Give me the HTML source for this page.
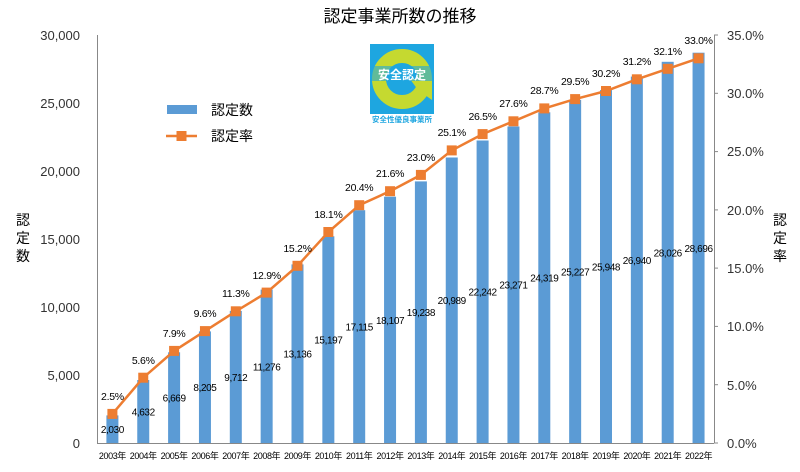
<!DOCTYPE html>
<html><head><meta charset="utf-8"><style>
html,body{margin:0;padding:0;background:#fff;}
svg{display:block;font-family:"Liberation Sans","Noto Sans CJK JP",sans-serif;}
</style></head><body>
<svg width="800" height="472" viewBox="0 0 800 472" xmlns="http://www.w3.org/2000/svg">
<rect width="800" height="472" fill="#fff"/>
<text x="400" y="22" font-size="17" text-anchor="middle" fill="#000">認定事業所数の推移</text>
<!-- axes -->
<g stroke="#888" stroke-width="1">
<line x1="97.5" y1="35" x2="97.5" y2="443"/>
<line x1="97" y1="443.5" x2="714" y2="443.5"/>
<line x1="714.5" y1="35" x2="714.5" y2="443"/>
<line x1="714" y1="35" x2="718" y2="35"/><line x1="714" y1="93.3" x2="718" y2="93.3"/>
<line x1="714" y1="151.6" x2="718" y2="151.6"/><line x1="714" y1="209.9" x2="718" y2="209.9"/>
<line x1="714" y1="268.1" x2="718" y2="268.1"/><line x1="714" y1="326.4" x2="718" y2="326.4"/>
<line x1="714" y1="384.7" x2="718" y2="384.7"/><line x1="714" y1="443" x2="718" y2="443"/>
</g>
<g font-size="13" fill="#333" text-anchor="end">
<text x="80" y="40">30,000</text><text x="80" y="108">25,000</text><text x="80" y="176">20,000</text>
<text x="80" y="244">15,000</text><text x="80" y="312">10,000</text><text x="80" y="380">5,000</text><text x="80" y="448">0</text>
</g>
<g font-size="13" fill="#333">
<text x="727" y="40">35.0%</text><text x="727" y="98">30.0%</text><text x="727" y="156">25.0%</text>
<text x="727" y="215">20.0%</text><text x="727" y="273">15.0%</text><text x="727" y="331">10.0%</text>
<text x="727" y="390">5.0%</text><text x="727" y="448">0.0%</text>
</g>
<g font-size="14" fill="#000" text-anchor="middle">
<text x="23" y="225">認</text><text x="23" y="243">定</text><text x="23" y="261">数</text>
<text x="780" y="225">認</text><text x="780" y="243">定</text><text x="780" y="261">率</text>
</g>
<!-- bars -->
<g fill="#5b9bd5">
<rect x="106.4" y="415.4" width="12" height="27.6"/>
<rect x="137.25" y="380" width="12" height="63"/>
<rect x="168.1" y="352.3" width="12" height="90.7"/>
<rect x="198.95" y="331.4" width="12" height="111.6"/>
<rect x="229.8" y="310.9" width="12" height="132.1"/>
<rect x="260.65" y="289.6" width="12" height="153.4"/>
<rect x="291.5" y="264.4" width="12" height="178.6"/>
<rect x="322.35" y="236.3" width="12" height="206.7"/>
<rect x="353.2" y="210.2" width="12" height="232.8"/>
<rect x="384.05" y="196.7" width="12" height="246.3"/>
<rect x="414.9" y="181.4" width="12" height="261.6"/>
<rect x="445.75" y="157.5" width="12" height="285.5"/>
<rect x="476.6" y="140.5" width="12" height="302.5"/>
<rect x="507.45" y="126.5" width="12" height="316.5"/>
<rect x="538.3" y="112.3" width="12" height="330.7"/>
<rect x="569.15" y="99.9" width="12" height="343.1"/>
<rect x="600" y="90.1" width="12" height="352.9"/>
<rect x="630.85" y="76.6" width="12" height="366.4"/>
<rect x="661.7" y="61.8" width="12" height="381.2"/>
<rect x="692.55" y="52.7" width="12" height="390.3"/>
</g>
<g font-size="10" fill="#000" text-anchor="middle" letter-spacing="-0.4">
<text x="112.4" y="433.2">2,030</text><text x="143.25" y="415.5">4,632</text><text x="174.1" y="401.6">6,669</text>
<text x="204.95" y="391.2">8,205</text><text x="235.8" y="381">9,712</text><text x="266.65" y="370.3">11,276</text>
<text x="297.5" y="357.7">13,136</text><text x="328.35" y="343.6">15,197</text><text x="359.2" y="330.6">17,115</text>
<text x="390.05" y="323.8">18,107</text><text x="420.9" y="316.2">19,238</text><text x="451.75" y="304.2">20,989</text>
<text x="482.6" y="295.7">22,242</text><text x="513.45" y="288.7">23,271</text><text x="544.3" y="281.6">24,319</text>
<text x="575.15" y="275.4">25,227</text><text x="606" y="270.5">25,948</text><text x="636.85" y="263.8">26,940</text>
<text x="667.7" y="256.4">28,026</text><text x="698.55" y="251.8">28,696</text>
</g>
<!-- line -->
<polyline fill="none" stroke="#ed7d31" stroke-width="2.5" points="112.4,413.9 143.25,377.7 174.1,350.9 204.95,331.1 235.8,311.3 266.65,292.6 297.5,265.8 328.35,232 359.2,205.2 390.05,191.2 420.9,174.9 451.75,150.4 482.6,134.1 513.45,121.3 544.3,108.4 575.15,99.1 606,91 636.85,79.3 667.7,68.8 698.55,58.3"/>
<g fill="#ed7d31">
<rect x="107.4" y="408.9" width="10" height="10"/><rect x="138.25" y="372.7" width="10" height="10"/>
<rect x="169.1" y="345.9" width="10" height="10"/><rect x="199.95" y="326.1" width="10" height="10"/>
<rect x="230.8" y="306.3" width="10" height="10"/><rect x="261.65" y="287.6" width="10" height="10"/>
<rect x="292.5" y="260.8" width="10" height="10"/><rect x="323.35" y="227" width="10" height="10"/>
<rect x="354.2" y="200.2" width="10" height="10"/><rect x="385.05" y="186.2" width="10" height="10"/>
<rect x="415.9" y="169.9" width="10" height="10"/><rect x="446.75" y="145.4" width="10" height="10"/>
<rect x="477.6" y="129.1" width="10" height="10"/><rect x="508.45" y="116.3" width="10" height="10"/>
<rect x="539.3" y="103.4" width="10" height="10"/><rect x="570.15" y="94.1" width="10" height="10"/>
<rect x="601" y="86" width="10" height="10"/><rect x="631.85" y="74.3" width="10" height="10"/>
<rect x="662.7" y="63.8" width="10" height="10"/><rect x="693.55" y="53.3" width="10" height="10"/>
</g>
<g font-size="10.5" fill="#000" text-anchor="middle" letter-spacing="-0.3">
<text x="112.4" y="400">2.5%</text><text x="143.25" y="364">5.6%</text><text x="174.1" y="337">7.9%</text>
<text x="204.95" y="317">9.6%</text><text x="235.8" y="297">11.3%</text><text x="266.65" y="279">12.9%</text>
<text x="297.5" y="252">15.2%</text><text x="328.35" y="218">18.1%</text><text x="359.2" y="191">20.4%</text>
<text x="390.05" y="177">21.6%</text><text x="420.9" y="161">23.0%</text><text x="451.75" y="136">25.1%</text>
<text x="482.6" y="120">26.5%</text><text x="513.45" y="107">27.6%</text><text x="544.3" y="94">28.7%</text>
<text x="575.15" y="85">29.5%</text><text x="606" y="77">30.2%</text><text x="636.85" y="65">31.2%</text>
<text x="667.7" y="55">32.1%</text><text x="698.55" y="44">33.0%</text>
</g>
<!-- x labels -->
<g font-size="9" fill="#000" text-anchor="middle" letter-spacing="-0.4">
<text x="112.4" y="459">2003年</text><text x="143.25" y="459">2004年</text><text x="174.1" y="459">2005年</text>
<text x="204.95" y="459">2006年</text><text x="235.8" y="459">2007年</text><text x="266.65" y="459">2008年</text>
<text x="297.5" y="459">2009年</text><text x="328.35" y="459">2010年</text><text x="359.2" y="459">2011年</text>
<text x="390.05" y="459">2012年</text><text x="420.9" y="459">2013年</text><text x="451.75" y="459">2014年</text>
<text x="482.6" y="459">2015年</text><text x="513.45" y="459">2016年</text><text x="544.3" y="459">2017年</text>
<text x="575.15" y="459">2018年</text><text x="606" y="459">2019年</text><text x="636.85" y="459">2020年</text>
<text x="667.7" y="459">2021年</text><text x="698.55" y="459">2022年</text>
</g>
<!-- legend -->
<rect x="167" y="105" width="30" height="9" fill="#5b9bd5"/>
<text x="211" y="115" font-size="14" fill="#000">認定数</text>
<line x1="166" y1="136" x2="197" y2="136" stroke="#ed7d31" stroke-width="2.5"/>
<rect x="176.5" y="131" width="10" height="10" fill="#ed7d31"/>
<text x="211" y="141" font-size="14" fill="#000">認定率</text>
<!-- logo -->
<rect x="370" y="44" width="64" height="70" fill="#1ea6e0"/>
<circle cx="402" cy="79" r="23" fill="none" stroke="#c5d930" stroke-width="14"/>
<polygon points="410,79 432,79 432,100 418,90" fill="#c5d930"/>
<rect x="371" y="66" width="62" height="15" fill="#1ea6e0" opacity="0.6"/>
<text x="402" y="79" font-size="12" font-weight="bold" fill="#fff" text-anchor="middle">安全認定</text>
<text x="402" y="122" font-size="7.5" font-weight="bold" fill="#1ea6e0" text-anchor="middle">安全性優良事業所</text>
</svg>
</body></html>
